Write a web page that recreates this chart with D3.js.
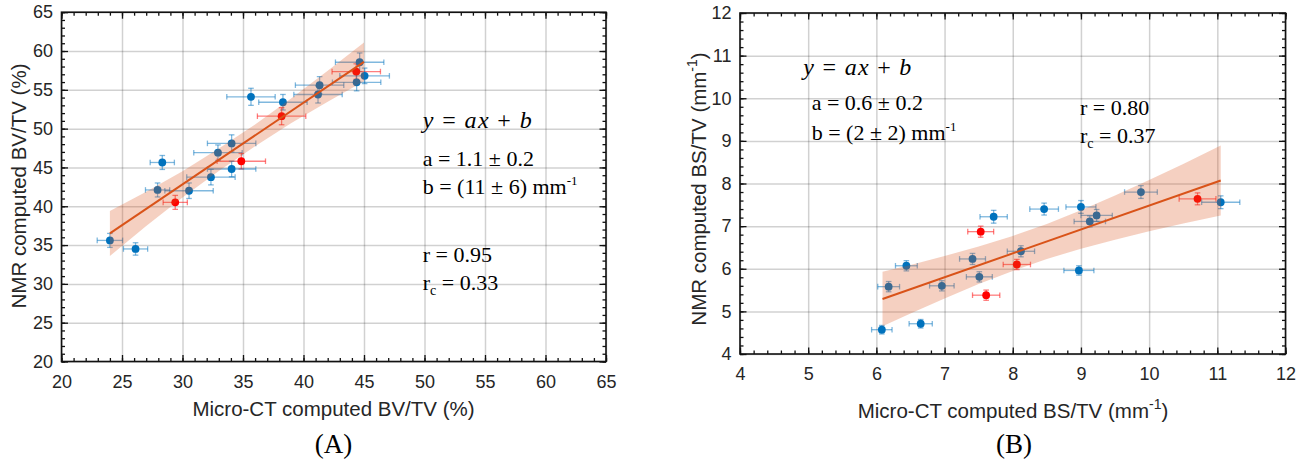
<!DOCTYPE html>
<html><head><meta charset="utf-8">
<script src="https://cdn.jsdelivr.net/npm/d3@7"></script>
<style>body{margin:0;background:#fff;} svg{display:block}</style>
</head><body>
<svg id="c" width="1308" height="465"></svg>
<script>
// ---------- Panel A data (BV/TV, %) ----------
const bvX    = [44.64, 44.36, 45.05, 44.39, 41.33, 41.20, 35.66, 38.30, 38.19, 34.06, 32.93, 34.86, 28.33, 34.06, 32.35, 27.94, 30.54, 29.40, 24.00, 26.12];
const bvY    = [58.55, 57.35, 56.80, 55.97, 55.60, 54.40, 54.10, 53.40, 51.60, 48.10, 46.90, 45.80, 45.64, 44.80, 43.75, 42.10, 42.00, 40.50, 35.60, 34.50];
const bvXErr = [2.0, 2.0, 2.05, 2.0, 2.0, 2.0, 2.0, 2.0, 2.0, 2.0, 2.0, 2.0, 1.0, 2.0, 2.0, 1.0, 2.0, 1.0, 1.05, 1.0];
const bvYErr = [1.2, 1.0, 1.0, 1.1, 1.1, 1.1, 1.1, 1.0, 1.1, 1.1, 1.0, 1.0, 0.9, 1.0, 1.0, 0.9, 1.0, 0.9, 0.9, 0.8];
const bvGroup= ["b","r","b","b","b","b","b","b","r","b","b","r","b","b","b","b","b","r","b","b"];
const bvFitX = [24.0, 45.0];
const bvFitY = [36.5, 58.6];
const bvBandX  = [24.0, 27.0, 30.0, 33.0, 36.0, 39.0, 42.0, 45.0];
const bvBandLo = [33.6, 37.46, 41.12, 44.53, 47.74, 50.71, 53.47, 56.1];
const bvBandHi = [39.4, 41.86, 44.52, 47.43, 50.54, 53.91, 57.47, 61.1];
const bvXTicks = [20, 25, 30, 35, 40, 45, 50, 55, 60, 65];
const bvYTicks = [20, 25, 30, 35, 40, 45, 50, 55, 60, 65];

// ---------- Panel B data (BS/TV, mm^-1) ----------
const bsX    = [6.08, 6.65, 6.18, 6.96, 7.61, 7.51, 7.41, 6.44, 7.53, 7.72, 8.12, 8.06, 8.46, 9.00, 9.23, 9.13, 8.97, 9.88, 10.71, 11.05];
const bsY    = [4.57, 4.71, 5.58, 5.60, 5.38, 5.81, 6.23, 6.07, 6.87, 7.22, 6.41, 6.10, 7.40, 7.45, 7.25, 7.11, 5.96, 7.80, 7.64, 7.56];
const bsXErr = [0.15, 0.17, 0.16, 0.18, 0.20, 0.19, 0.19, 0.16, 0.19, 0.20, 0.20, 0.20, 0.21, 0.22, 0.23, 0.23, 0.22, 0.24, 0.27, 0.28];
const bsYErr = [0.10, 0.10, 0.12, 0.12, 0.12, 0.12, 0.13, 0.12, 0.13, 0.15, 0.13, 0.12, 0.14, 0.15, 0.14, 0.13, 0.11, 0.15, 0.14, 0.15];
const bsGroup= ["b","b","b","b","r","b","b","b","r","b","b","r","b","b","b","b","b","b","r","b"];
const bsFitX = [6.09, 11.05];
const bsFitY = [5.29, 8.07];
const bsBandX  = [6.09, 6.5, 7.0, 7.5, 8.0, 8.5, 9.0, 9.5, 10.0, 10.5, 11.05];
const bsBandLo = [4.65, 4.95, 5.30, 5.64, 5.95, 6.23, 6.47, 6.68, 6.88, 7.06, 7.25];
const bsBandHi = [5.93, 6.09, 6.30, 6.52, 6.77, 7.05, 7.37, 7.72, 8.08, 8.46, 8.89];
const bsXTicks = [4, 5, 6, 7, 8, 9, 10, 11, 12];
const bsYTicks = [4, 5, 6, 7, 8, 9, 10, 11, 12];

const svg = d3.select("#c");
const BLUE = "#0072BD", RED = "#FF0000", ORANGE = "#D95319", INK = "#262626";

function panel(cfg) {
  const x = d3.scaleLinear().domain(cfg.xDomain).range(cfg.xRange);
  const y = d3.scaleLinear().domain(cfg.yDomain).range(cfg.yRange);
  const [xl, xr] = cfg.xRange, [yb, yt] = cfg.yRange;
  const W = xr - xl, H = yb - yt;
  const g = svg.append("g");

  // grid
  const grid = g.append("g").attr("class", "grid");
  grid.append("g").attr("transform", `translate(0,${yb})`)
    .call(d3.axisBottom(x).tickValues(cfg.xTicks).tickSize(-H).tickFormat(""));
  grid.append("g").attr("transform", `translate(${xl},0)`)
    .call(d3.axisLeft(y).tickValues(cfg.yTicks).tickSize(-W).tickFormat(""));
  grid.selectAll(".domain").remove();
  grid.selectAll("line").attr("stroke", INK).attr("stroke-opacity", 0.21).attr("stroke-width", 1.5);

  // error bars + points
  const n = cfg.px.length;
  const idx = d3.range(n);
  const cap = 2.8;
  const eb = g.append("g");
  idx.forEach(i => {
    const col = cfg.grp[i] === "r" ? RED : BLUE;
    const cx = x(cfg.px[i]), cy = y(cfg.py[i]);
    const xa = x(cfg.px[i] - cfg.xe[i]), xb = x(cfg.px[i] + cfg.xe[i]);
    const ya = y(cfg.py[i] - cfg.ye[i]), yb2 = y(cfg.py[i] + cfg.ye[i]);
    const e = eb.append("g").attr("stroke", col).attr("stroke-opacity", 0.5).attr("stroke-width", 1.3);
    e.append("line").attr("x1", xa).attr("x2", xb).attr("y1", cy).attr("y2", cy);
    e.append("line").attr("x1", xa).attr("x2", xa).attr("y1", cy - cap).attr("y2", cy + cap);
    e.append("line").attr("x1", xb).attr("x2", xb).attr("y1", cy - cap).attr("y2", cy + cap);
    e.append("line").attr("x1", cx).attr("x2", cx).attr("y1", ya).attr("y2", yb2);
    e.append("line").attr("x1", cx - cap).attr("x2", cx + cap).attr("y1", ya).attr("y2", ya);
    e.append("line").attr("x1", cx - cap).attr("x2", cx + cap).attr("y1", yb2).attr("y2", yb2);
  });
  g.append("g").selectAll("circle").data(idx).join("circle")
    .attr("cx", i => x(cfg.px[i])).attr("cy", i => y(cfg.py[i])).attr("r", 3.9)
    .attr("fill", i => cfg.grp[i] === "r" ? RED : BLUE);

  // confidence band
  const area = d3.area().x(i => x(cfg.bandX[i])).y0(i => y(cfg.bandLo[i])).y1(i => y(cfg.bandHi[i]));
  g.append("path").attr("d", area(d3.range(cfg.bandX.length)))
    .attr("fill", ORANGE).attr("fill-opacity", 0.27);

  // fit line
  const line = d3.line().x(i => x(cfg.fitX[i])).y(i => y(cfg.fitY[i]));
  g.append("path").attr("d", line(d3.range(cfg.fitX.length)))
    .attr("fill", "none").attr("stroke", ORANGE).attr("stroke-width", 2);

  // axes
  const axG = g.append("g").attr("font-family", "Liberation Sans, Arial, sans-serif");
  const style = s => {
    s.select(".domain").remove();
    s.selectAll("line").attr("stroke", "#111").attr("stroke-width", 1.3);
    s.selectAll("text").attr("fill", INK).attr("font-size", 18).attr("font-family", "Liberation Sans, Arial, sans-serif");
  };
  const minorX = d3.range(cfg.xDomain[0], cfg.xDomain[1] + 1e-9, cfg.xMinor);
  const minorY = d3.range(cfg.yDomain[0], cfg.yDomain[1] + 1e-9, cfg.yMinor);
  axG.append("g").attr("transform", `translate(0,${yb})`)
    .call(d3.axisBottom(x).tickValues(cfg.xTicks).tickSize(-6.5).tickPadding(13.5).tickFormat(d3.format("d"))).call(style);
  axG.append("g").attr("transform", `translate(0,${yb})`)
    .call(d3.axisBottom(x).tickValues(minorX).tickSize(-3.5).tickFormat("")).call(style);
  axG.append("g").attr("transform", `translate(0,${yt})`)
    .call(d3.axisTop(x).tickValues(cfg.xTicks).tickSize(-6.5).tickFormat("")).call(style);
  axG.append("g").attr("transform", `translate(0,${yt})`)
    .call(d3.axisTop(x).tickValues(minorX).tickSize(-3.5).tickFormat("")).call(style);
  axG.append("g").attr("transform", `translate(${xl},0)`)
    .call(d3.axisLeft(y).tickValues(cfg.yTicks).tickSize(-6.5).tickPadding(8.5).tickFormat(d3.format("d"))).call(style);
  axG.append("g").attr("transform", `translate(${xl},0)`)
    .call(d3.axisLeft(y).tickValues(minorY).tickSize(-3.5).tickFormat("")).call(style);
  axG.append("g").attr("transform", `translate(${xr},0)`)
    .call(d3.axisRight(y).tickValues(cfg.yTicks).tickSize(-6.5).tickFormat("")).call(style);
  axG.append("g").attr("transform", `translate(${xr},0)`)
    .call(d3.axisRight(y).tickValues(minorY).tickSize(-3.5).tickFormat("")).call(style);
  g.append("rect").attr("x", xl).attr("y", yt).attr("width", W).attr("height", H)
    .attr("fill", "none").attr("stroke", "#111").attr("stroke-width", 1.6);
  return {x, y, g};
}

const A = panel({
  xDomain: [20, 65], yDomain: [20, 65], xRange: [61.5, 606], yRange: [361.5, 12.2],
  xTicks: bvXTicks, yTicks: bvYTicks, xMinor: 1, yMinor: 1,
  px: bvX, py: bvY, xe: bvXErr, ye: bvYErr, grp: bvGroup,
  fitX: bvFitX, fitY: bvFitY, bandX: bvBandX, bandLo: bvBandLo, bandHi: bvBandHi
});
const B = panel({
  xDomain: [4, 12], yDomain: [4, 12], xRange: [740, 1285.5], yRange: [354, 13],
  xTicks: bsXTicks, yTicks: bsYTicks, xMinor: 0.2, yMinor: 0.2,
  px: bsX, py: bsY, xe: bsXErr, ye: bsYErr, grp: bsGroup,
  fitX: bsFitX, fitY: bsFitY, bandX: bsBandX, bandLo: bsBandLo, bandHi: bsBandHi
});

// ---------- text helpers ----------
const SANS = "Liberation Sans, Arial, sans-serif";
const SERIF = "Liberation Serif, Times New Roman, serif";

function eqText(x, y, len) {
  const t = svg.append("text").attr("x", x).attr("y", y).attr("font-family", SERIF)
    .attr("font-size", 24).attr("fill", "#000").attr("textLength", len).attr("lengthAdjust", "spacing");
  t.append("tspan").attr("font-style", "italic").text("y");
  t.append("tspan").text(" = ");
  t.append("tspan").attr("font-style", "italic").text("ax");
  t.append("tspan").text(" + ");
  t.append("tspan").attr("font-style", "italic").text("b");
}
function plain(x, y, s) {
  svg.append("text").attr("x", x).attr("y", y).attr("font-family", SERIF)
    .attr("font-size", 22).attr("fill", "#000").text(s);
}
function withSup(x, y, s, sup) {
  const t = svg.append("text").attr("x", x).attr("y", y).attr("font-family", SERIF)
    .attr("font-size", 22).attr("fill", "#000");
  t.append("tspan").text(s);
  t.append("tspan").attr("font-size", 13).attr("dy", -9).text(sup);
}
function rc(x, y, s) {
  const t = svg.append("text").attr("x", x).attr("y", y).attr("font-family", SERIF)
    .attr("font-size", 22).attr("fill", "#000");
  t.append("tspan").text("r");
  t.append("tspan").attr("font-size", 14).attr("dy", 5).text("c");
  t.append("tspan").attr("dy", -5).text(" = " + s);
}

// Panel A annotations
eqText(422.7, 128, 109);
plain(422.7, 166, "a = 1.1 \u00B1 0.2");
withSup(422.7, 194, "b = (11 \u00B1 6) mm", "-1");
plain(422.7, 262, "r = 0.95");
rc(422.7, 290, "0.33");

// Panel B annotations
eqText(803.3, 75, 108);
plain(811.7, 110, "a = 0.6 \u00B1 0.2");
withSup(811.7, 139.5, "b = (2 \u00B1 2) mm", "-1");
plain(1080, 115, "r = 0.80");
rc(1080, 143, "0.37");

// axis labels
svg.append("text").attr("x", 333.5).attr("y", 416).attr("text-anchor", "middle")
  .attr("font-family", SANS).attr("font-size", 20.5).attr("fill", INK)
  .text("Micro-CT computed BV/TV (%)");
svg.append("text").attr("transform", "translate(26,186) rotate(-90)").attr("text-anchor", "middle")
  .attr("font-family", SANS).attr("font-size", 20.5).attr("fill", INK)
  .text("NMR computed BV/TV (%)");
(function(){
  const t = svg.append("text").attr("x", 1013).attr("y", 418).attr("text-anchor", "middle")
    .attr("font-family", SANS).attr("font-size", 20.5).attr("fill", INK);
  t.append("tspan").text("Micro-CT computed BS/TV (mm");
  t.append("tspan").attr("font-size", 14).attr("dy", -9).text("-1");
  t.append("tspan").attr("dy", 9).text(")");
  const u = svg.append("text").attr("transform", "translate(706,189) rotate(-90)").attr("text-anchor", "middle")
    .attr("font-family", SANS).attr("font-size", 20.5).attr("fill", INK);
  u.append("tspan").text("NMR computed BS/TV (mm");
  u.append("tspan").attr("font-size", 14).attr("dy", -9).text("-1");
  u.append("tspan").attr("dy", 9).text(")");
})();

// panel captions
svg.append("text").attr("x", 333.5).attr("y", 453).attr("text-anchor", "middle")
  .attr("font-family", SERIF).attr("font-size", 27).attr("fill", "#000").text("(A)");
svg.append("text").attr("x", 1014).attr("y", 453).attr("text-anchor", "middle")
  .attr("font-family", SERIF).attr("font-size", 27).attr("fill", "#000").text("(B)");
</script>
</body></html>
